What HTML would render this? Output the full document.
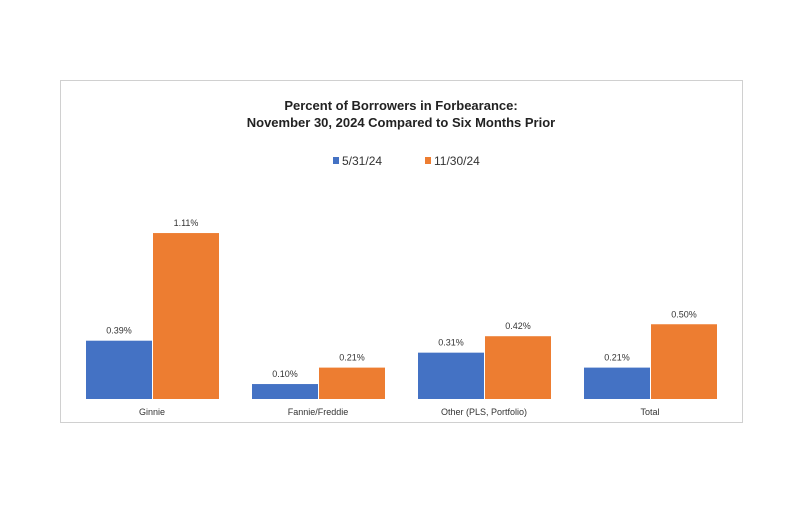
<!DOCTYPE html>
<html><head><meta charset="utf-8"><style>
body{margin:0;background:#fff;width:800px;height:527px;overflow:hidden;font-family:"Liberation Sans",sans-serif}
</style></head><body>
<svg width="800" height="527">
<rect x="60.5" y="80.5" width="682" height="342" fill="#fff" stroke="#d0d0d0"/>
<text x="401" y="110" text-anchor="middle" font-size="13" font-weight="bold" fill="#222">Percent of Borrowers in Forbearance:</text>
<text x="401" y="127" text-anchor="middle" font-size="13" font-weight="bold" fill="#222">November 30, 2024 Compared to Six Months Prior</text>
<g>
<rect x="333" y="157" width="6" height="7" fill="#4472c4"/>
<text x="342" y="165" font-size="12" fill="#333">5/31/24</text>
<rect x="425" y="157" width="6" height="7" fill="#ed7d31"/>
<text x="434" y="165" font-size="12" fill="#333">11/30/24</text>
</g>
<g id="bars"></g>
</svg>
<script>
const categories=["Ginnie","Fannie/Freddie","Other (PLS, Portfolio)","Total"];
const may=[0.39,0.10,0.31,0.21];
const nov=[1.11,0.21,0.42,0.50];
const base=399, pxPer=149.5, g0=86, gStep=166, bw=66;
const y=v=>base-v*pxPer;
const ns="http://www.w3.org/2000/svg";
const g=document.getElementById('bars');
function mk(t,a){const e=document.createElementNS(ns,t);for(const k in a)e.setAttribute(k,a[k]);g.appendChild(e);return e;}
categories.forEach((c,i)=>{
 const x0=g0+i*gStep;
 [[may,"#4472c4",0,"may"],[nov,"#ed7d31",bw+1,"nov"]].forEach(([s,col,off,nm])=>{
  const r=mk('rect',{x:x0+off,y:y(s[i]),width:bw,height:s[i]*pxPer,fill:col});
  
  
  const t=mk('text',{x:x0+off+bw/2,y:y(s[i])-7,'text-anchor':'middle','font-size':'9',fill:'#333'});
  t.textContent=s[i].toFixed(2)+'%';
  
  
 });
 const l=mk('text',{x:x0+bw,y:415,'text-anchor':'middle','font-size':'9',fill:'#333'});
 l.textContent=c;
 
 
});
</script>
</body></html>
